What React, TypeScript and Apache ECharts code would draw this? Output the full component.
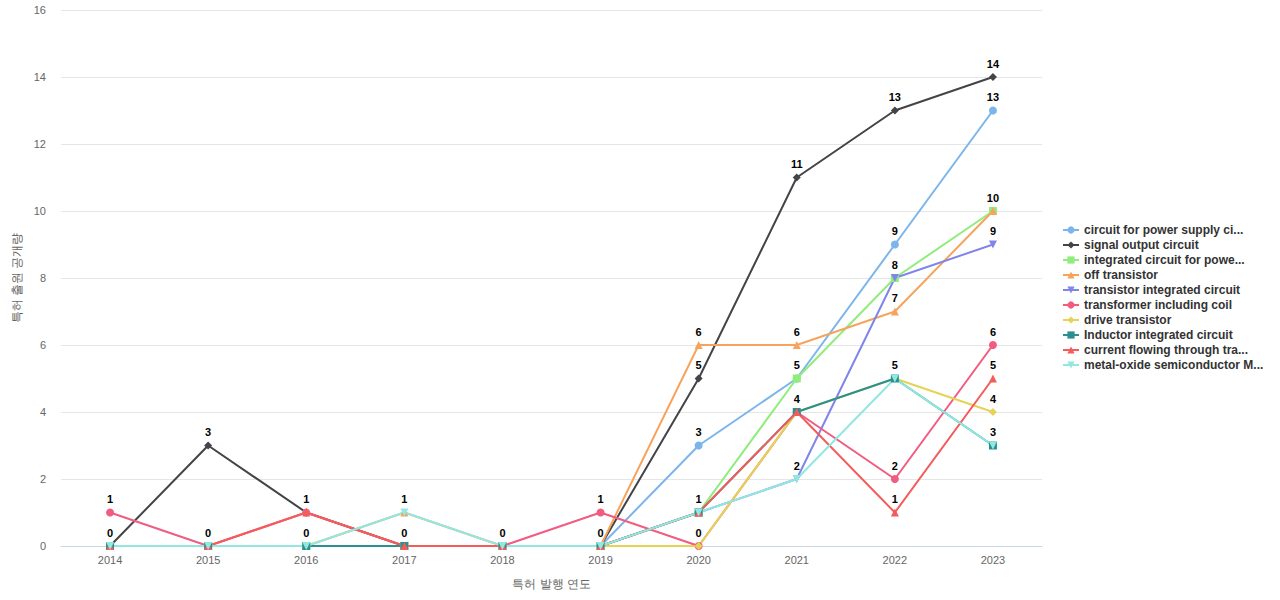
import React, { useEffect, useRef } from "react";
import * as echarts from "echarts";

const years = ["2014", "2015", "2016", "2017", "2018", "2019", "2020", "2021", "2022", "2023"];

const seriesNames = [
  "circuit for power supply ci...",
  "signal output circuit",
  "integrated circuit for powe...",
  "off transistor",
  "transistor integrated circuit",
  "transformer including coil",
  "drive transistor",
  "Inductor integrated circuit",
  "current flowing through tra...",
  "metal-oxide semiconductor M...",
];

const powerSupply = [0, 0, 0, 0, 0, 0, 3, 5, 9, 13];
const signalOutput = [0, 3, 1, 0, 0, 0, 5, 11, 13, 14];
const integratedPower = [0, 0, 0, 0, 0, 0, 1, 5, 8, 10];
const offTransistor = [0, 0, 0, 1, 0, 0, 6, 6, 7, 10];
const transistorIC = [0, 0, 0, 0, 0, 0, 1, 2, 8, 9];
const transformerCoil = [1, 0, 1, 0, 0, 1, 0, 4, 2, 6];
const driveTransistor = [0, 0, 0, 0, 0, 0, 0, 4, 5, 4];
const inductorIC = [0, 0, 0, 0, 0, 0, 1, 4, 5, 3];
const currentFlowing = [0, 0, 1, 0, 0, 0, 1, 4, 1, 5];
const mosfet = [0, 0, 0, 1, 0, 0, 1, 2, 5, 3];

const allData = [
  powerSupply,
  signalOutput,
  integratedPower,
  offTransistor,
  transistorIC,
  transformerCoil,
  driveTransistor,
  inductorIC,
  currentFlowing,
  mosfet,
];

const colors = ["#7cb5ec", "#434348", "#90ed7d", "#f7a35c", "#8085e9", "#f15c80", "#e4d354", "#2b908f", "#f45b5b", "#91e8e1"];
const symbols = ["circle", "diamond", "rect", "triangle", "path://M0,0 L10,0 L5,10 Z", "circle", "diamond", "rect", "triangle", "path://M0,0 L10,0 L5,10 Z"];

export default function App() {
  const ref = useRef<HTMLDivElement>(null);
  useEffect(() => {
    if (!ref.current) return;
    const chart = echarts.init(ref.current, undefined, { renderer: "svg" });
    chart.setOption({
      animation: false,
      color: colors,
      grid: { left: 61, right: 238, top: 10, bottom: 54 },
      legend: {
        orient: "vertical",
        left: 1057,
        top: 219,
        itemWidth: 16,
        itemHeight: 9,
        itemGap: 3,
        textStyle: { fontWeight: "bold", fontSize: 12, color: "#333" },
        data: seriesNames,
      },
      xAxis: {
        type: "category",
        data: years,
        name: "특허 발행 연도",
        nameLocation: "middle",
        nameGap: 32,
        nameTextStyle: { color: "#666", fontSize: 12 },
        axisLine: { lineStyle: { color: "#ccd6eb" } },
        axisTick: { show: false },
        axisLabel: { color: "#666", fontSize: 11 },
      },
      yAxis: {
        type: "value",
        min: 0,
        max: 16,
        interval: 2,
        name: "특허 출원 공개량",
        nameLocation: "middle",
        nameGap: 34,
        nameTextStyle: { color: "#666", fontSize: 12 },
        axisLabel: { color: "#666", fontSize: 11, margin: 15 },
        splitLine: { lineStyle: { color: "#e6e6e6" } },
      },
      series: seriesNames.map((name, i) => ({
        name,
        type: "line",
        data: allData[i],
        symbol: symbols[i],
        symbolSize: 8,
        lineStyle: { width: 2 },
        label: {
          show: true,
          position: "top",
          distance: 4,
          color: "#000",
          fontWeight: "bold",
          fontSize: 11,
        },
        labelLayout: { hideOverlap: true },
      })),
    });
    return () => chart.dispose();
  }, []);
  return <div ref={ref} style={{ width: 1280, height: 600, position: "absolute", left: 0, top: 0 }} />;
}
